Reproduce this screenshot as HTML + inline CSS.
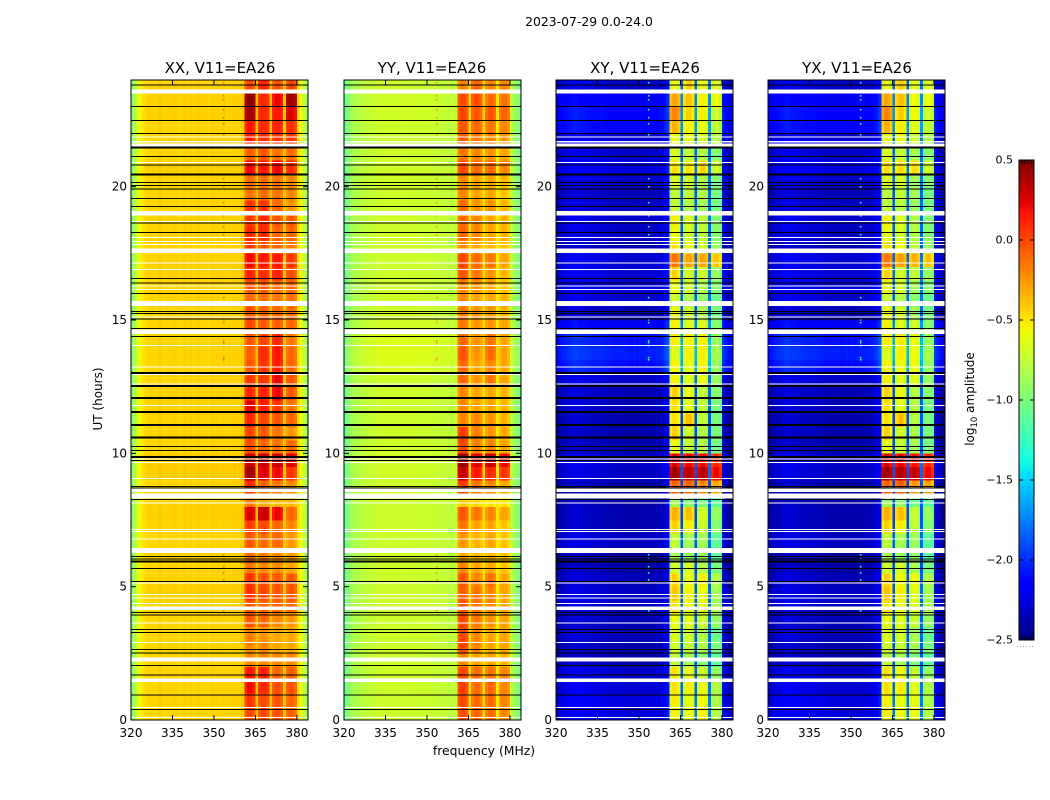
<!DOCTYPE html>
<html>
<head>
<meta charset="utf-8">
<title>2023-07-29 0.0-24.0</title>
<style>
html,body{margin:0;padding:0;background:#fff;}
svg{display:block;font-family:"DejaVu Sans","Liberation Sans",sans-serif;fill:#000;}
</style>
</head>
<body>
<svg id="figure" width="1050" height="800" viewBox="0 0 1050 800" xmlns="http://www.w3.org/2000/svg">
  <rect x="0" y="0" width="1050" height="800" fill="#fff"/>
  <text x="589" y="26" font-size="12.4" text-anchor="middle">2023-07-29 0.0-24.0</text>
  <text x="220" y="73" font-size="15" text-anchor="middle">XX, V11=EA26</text>
  <text x="432" y="73" font-size="15" text-anchor="middle">YY, V11=EA26</text>
  <text x="645" y="73" font-size="15" text-anchor="middle">XY, V11=EA26</text>
  <text x="857" y="73" font-size="15" text-anchor="middle">YX, V11=EA26</text>
  <text transform="translate(102,399) rotate(-90)" font-size="12" text-anchor="middle">UT (hours)</text>
  <text x="484" y="755" font-size="12.4" text-anchor="middle">frequency (MHz)</text>
  <text transform="translate(974,399) rotate(-90)" font-size="12" text-anchor="middle">log<tspan font-size="8.5" dy="3">10</tspan><tspan dy="-3"> amplitude</tspan></text>
  <g id="panels"></g>
  <g id="colorbar"></g>
</svg>
<script>
// Categories and tick labels
const frequencyTicks = [320, 335, 350, 365, 380];
const hourTicks = [0, 5, 10, 15, 20];
const colorbarTicks = [-2.5, -2.0, -1.5, -1.0, -0.5, 0.0, 0.5];
const bandStartChannels = [41, 46, 51, 56];

// log10 amplitude per 1 MHz channel (320..383). Inside a band the value is an offset to the band level.
const xxProfile = [-.95,-.8,-.65,-.55,-.5,-.46,-.45,-.44,-.46,-.45,-.43,-.45,-.46,-.44,-.45,-.43,-.45,-.46,-.45,-.43,-.45,-.44,-.46,-.45,-.43,-.45,-.44,-.45,-.46,-.43,-.45,-.44,-.45,-.43,-.45,-.44,-.45,-.43,-.44,-.43,-.42,-.06,.02,.02,-.04,-.37,-.04,.02,.02,-.04,-.37,-.04,.02,.02,-.04,-.39,-.04,.02,.02,-.06,-.45,-.6,-.72,-.85];
const yyProfile = [-1.05,-.97,-.88,-.84,-.82,-.79,-.77,-.77,-.75,-.75,-.73,-.71,-.71,-.71,-.7,-.71,-.7,-.71,-.69,-.7,-.71,-.7,-.69,-.7,-.71,-.71,-.7,-.71,-.71,-.71,-.71,-.72,-.72,-.73,-.74,-.74,-.74,-.75,-.76,-.76,-.74,-.05,.02,.02,-.04,-.48,-.05,.02,.02,-.05,-.48,-.05,.02,.02,-.05,-.5,-.05,.02,.02,-.06,-.76,-.84,-.94,-1.02];
const xyProfile = [-2.45,-2.42,-2.38,-2.36,-2.34,-2.32,-2.3,-2.3,-2.32,-2.32,-2.33,-2.33,-2.35,-2.35,-2.36,-2.36,-2.36,-2.37,-2.38,-2.38,-2.4,-2.4,-2.4,-2.4,-2.4,-2.4,-2.42,-2.42,-2.4,-2.42,-2.4,-2.42,-2.4,-2.4,-2.4,-2.4,-2.38,-2.38,-2.35,-2.3,-2.2,-.1,.02,.02,-.08,-1.95,-.08,.02,.02,-.08,-1.95,-.08,.02,.02,-.08,-1.9,-.08,.02,.02,-.1,-2.3,-2.38,-2.44,-2.46];
const yxProfile = xyProfile;

// One row per half hour of UT, bottom to top: [background offset, band 1, band 2, band 3, band 4]
const xxRows = [
[0,.0,0,-.03,-.08],[0,.05,-.02,-.05,-.1],[0,.18,.1,-.03,-.03],[0,.15,.12,-.1,-.08],[0,-.2,-.2,-.2,-.2],[0,-.2,-.2,-.3,-.3],
[0,-.18,-.25,-.3,-.3],[0,-.05,-.1,-.2,-.25],[0,-.05,-.1,-.1,-.1],[.01,.08,0,-.05,-.05],[.01,.06,-.02,-.06,-.05],[0,-.15,-.2,-.22,-.3],
[0,-.1,-.15,-.2,-.25],[0,-.05,-.12,-.1,-.25],[0,.03,0,-.1,-.2],[.01,.25,.3,.2,-.1],[0,-.15,-.3,-.35,-.35],[0,.1,-.1,-.15,-.2],
[.02,.4,.25,.2,.05],[.03,.3,.3,.3,.25],[0,-.02,-.1,-.15,-.1],[0,0,-.05,-.15,-.25],[0,.1,0,-.05,-.1],[.01,.25,.15,.05,-.15],
[0,.1,.12,.2,-.05],[0,.05,.05,.2,-.05],[0,-.05,.05,.12,-.1],[0,-.08,.08,.15,-.1],[0,-.05,0,.1,-.15],[0,0,-.05,-.08,-.1],
[0,-.03,-.08,-.1,-.12],[0,-.1,-.12,-.15,-.12],[0,-.05,-.05,-.12,-.1],[.01,.12,.08,.12,-.02],[.01,.2,.15,.15,.05],[0,.05,-.05,-.1,-.15],
[0,.1,.1,-.1,-.1],[0,.05,.1,-.05,-.05],[0,.05,.05,-.1,-.25],[0,-.15,-.12,-.15,-.2],[0,-.12,-.12,-.15,-.2],[.01,.2,.15,.2,.08],
[0,-.08,-.05,-.15,-.12],[0,.15,.1,.05,.05],[0,.15,.1,.12,.08],[.01,.4,.1,.15,.25],[.01,.45,.1,.2,.4],[0,-.02,.1,-.05,0]
];
const yyRows = [
[0,-.02,-.1,-.12,-.2],[0,-.02,-.12,-.12,-.2],[0,.03,-.12,-.1,-.2],[0,0,-.12,-.15,-.2],[0,-.2,-.3,-.3,-.35],[0,0,-.2,-.3,-.3],
[0,0,-.2,-.3,-.3],[0,0,-.15,-.25,-.3],[0,-.05,-.15,-.2,-.3],[0,-.08,-.15,-.2,-.3],[0,-.05,-.2,-.15,-.3],[0,-.2,-.3,-.3,-.4],
[0,-.3,-.35,-.35,-.4],[0,-.25,-.35,-.3,-.4],[0,-.15,-.3,-.3,-.4],[0,-.05,-.15,-.2,-.3],[0,-.4,-.45,-.5,-.5],[0,.05,-.15,-.2,-.3],
[.01,.3,.15,.1,.05],[.02,.42,.25,.3,.2],[0,0,-.2,-.2,-.3],[0,.03,-.18,-.25,-.32],[0,-.2,-.2,-.25,-.35],[0,-.2,-.3,-.3,-.35],
[0,-.2,-.3,-.3,-.35],[0,-.1,-.25,-.15,-.3],[.05,-.1,-.3,-.2,-.3],[.06,-.05,-.25,-.12,-.3],[.05,-.1,-.25,-.15,-.3],[.02,-.15,-.25,-.25,-.3],
[0,-.15,-.25,-.25,-.35],[0,-.2,-.3,-.3,-.35],[0,-.2,-.25,-.3,-.4],[0,-.05,-.15,-.25,-.35],[0,0,-.1,-.15,-.3],[0,-.2,-.3,-.35,-.4],
[0,-.1,-.2,-.3,-.35],[0,-.12,-.2,-.3,-.35],[0,-.1,-.25,-.25,-.35],[0,-.2,-.3,-.3,-.4],[0,-.2,-.3,-.3,-.35],[.01,0,-.1,-.1,-.2],
[0,-.15,-.2,-.25,-.3],[0,-.05,-.15,-.2,-.25],[0,-.05,-.1,-.15,-.2],[.01,0,-.05,-.05,-.1],[.01,-.02,-.02,-.1,-.15],[0,-.2,-.1,-.2,-.2]
];
const xyRows = [
[.15,-.55,-.6,-.55,-.8],[.15,-.55,-.62,-.58,-.8],[.12,-.5,-.55,-.6,-.8],[.1,-.5,-.6,-.7,-.9],[.02,-.75,-.85,-.95,-1.1],[.02,-.7,-.75,-.8,-1.0],
[.05,-.65,-.7,-.8,-1.05],[.05,-.6,-.65,-.7,-.9],[.08,-.5,-.6,-.6,-.85],[.08,-.4,-.55,-.6,-.85],[.05,-.45,-.6,-.55,-.8],[0,-.7,-.7,-.8,-1.0],
[0,-.8,-.9,-.85,-1.1],[.08,-.75,-.85,-.85,-1.1],[.02,-.45,-.55,-.7,-.95],[.02,-.35,-.4,-.7,-.9],[0,-.85,-.95,-1,-1.1],[0,-.1,-.1,-.2,-.3],
[.08,.4,.35,.35,.2],[.1,.25,.2,.2,.1],[.02,-.6,-.75,-.8,-1.0],[.02,-.45,-.7,-.8,-1],[.02,-.5,-.4,-.75,-1],[.05,-.5,-.65,-.75,-1],
[.05,-.45,-.6,-.75,-.95],[.1,-.55,-.65,-.6,-.9],[.3,-.55,-.6,-.55,-.9],[.36,-.65,-.55,-.55,-.85],[.32,-.55,-.55,-.55,-.9],[.22,-.55,-.65,-.65,-.95],
[.05,-.6,-.7,-.8,-1.0],[.1,-.7,-.8,-.9,-1.05],[.12,-.6,-.7,-.8,-.95],[.12,-.45,-.7,-.7,-.9],[.12,-.15,-.3,-.3,-.4],[.02,-.5,-.6,-.7,-.9],
[.08,-.6,-.7,-.75,-.95],[.1,-.55,-.65,-.75,-.95],[.08,-.75,-.8,-.85,-1.0],[.05,-.75,-.75,-.8,-1.0],[.1,-.65,-.7,-.8,-.95],[.15,-.5,-.5,-.45,-.7],
[.1,-.65,-.75,-.8,-.95],[.12,-.6,-.6,-.65,-.8],[.25,-.35,-.55,-.6,-.75],[.26,-.2,-.45,-.55,-.7],[.2,-.3,-.4,-.55,-.6],[.1,-.6,-.45,-.6,-.65]
];
const yxRows = xyRows;
const yxBandTrim = [0, .02, -.04, 0];

// Flagged integrations, UT hours
const blackFlagHours = [23.81,23.01,22.49,21.99,21.14,20.82,20.16,20.04,19.91,19.56,19.26,18.64,18.29,16.56,16.39,16.0,15.31,15.24,15.03,14.69,14.39,10.26,10.10,9.74,8.75,8.70,8.26,6.14,6.04,5.69,5.20,4.04,3.94,3.40,3.29,2.65,2.51,2.05,1.68,0.93,0.39];
const thickBlackFlagHours = [21.46,20.45,13.02,12.53,12.08,11.55,11.06,10.59,9.87,5.94];
const whiteFlagHours = [21.87,20.91,18.69,18.10,17.94,17.84,17.13,16.90,16.28,16.15,15.12,14.05,13.23,12.95,12.60,11.80,9.79,9.66,9.06,8.14,7.15,7.07,6.78,5.13,4.70,4.57,4.36,3.64,2.91,0.46,0.09];
const whiteFlagStarts = [23.50,21.65,21.51,18.91,17.52,15.53,14.48,8.55,8.30,6.26,4.13,2.19,1.43];
const whiteFlagEnds = [23.65,21.71,21.62,19.09,17.69,15.71,14.65,8.68,8.49,6.45,4.25,2.35,1.55];

// Interference spikes in a single channel
const spikeChannel = 33;
const spikeHours = [23.89,23.4,23.25,22.88,22.58,22.35,21.94,20.29,19.99,19.39,18.9,18.49,18.19,15.83,15,14.89,14.21,14.14,14.03,13.58,13.5,6.19,6.04,5.74,5.51,5.25,4.09];
const xxSpikeLevel = -0.12;
const yySpikeLevel = -0.25;
const xySpikeLevel = -1.2;
const yxSpikeLevel = -1.2;

const SVG_NS = 'http://www.w3.org/2000/svg';
const FREQ_MIN = 320, FREQ_MAX = 384, HOUR_MAX = 24, VALUE_MIN = -2.5, VALUE_MAX = 0.5;
const PANEL_TOP = 80, PANEL_BOTTOM = 720, PANEL_WIDTH = 177;
const BAR_LEFT = 1019, BAR_RIGHT = 1034, BAR_TOP = 160, BAR_BOTTOM = 640;

const panels = [
  {key:'xx', left:131, rows:xxRows, profile:xxProfile, spike:xxSpikeLevel, trim:[0,0,0,0]},
  {key:'yy', left:344, rows:yyRows, profile:yyProfile, spike:yySpikeLevel, trim:[0,0,0,0]},
  {key:'xy', left:556, rows:xyRows, profile:xyProfile, spike:xySpikeLevel, trim:[0,0,0,0]},
  {key:'yx', left:768, rows:yxRows, profile:yxProfile, spike:yxSpikeLevel, trim:yxBandTrim}
];

function xScale(panel, mhz) { return panel.left + (mhz - FREQ_MIN) / (FREQ_MAX - FREQ_MIN) * PANEL_WIDTH; }
function yScale(hour) { return PANEL_BOTTOM - hour / HOUR_MAX * (PANEL_BOTTOM - PANEL_TOP); }
function barScale(v) { return BAR_BOTTOM - (v - VALUE_MIN) / (VALUE_MAX - VALUE_MIN) * (BAR_BOTTOM - BAR_TOP); }

function ramp(t, pts) {
  for (let i = 1; i < pts.length; i++) {
    if (t <= pts[i][0]) {
      const a = pts[i - 1], b = pts[i];
      return a[1] + (b[1] - a[1]) * (t - a[0]) / (b[0] - a[0]);
    }
  }
  return pts[pts.length - 1][1];
}
const JET_R = [[0,0],[.35,0],[.66,1],[.89,1],[1,.5]];
const JET_G = [[0,0],[.125,0],[.375,1],[.64,1],[.91,0],[1,0]];
const JET_B = [[0,.5],[.11,1],[.34,1],[.65,0],[1,0]];
function colorScale(v) {
  const t = Math.max(0, Math.min(1, (v - VALUE_MIN) / (VALUE_MAX - VALUE_MIN)));
  return 'rgb(' + Math.round(255 * ramp(t, JET_R)) + ',' + Math.round(255 * ramp(t, JET_G)) + ',' + Math.round(255 * ramp(t, JET_B)) + ')';
}
function bandOf(channel) {
  for (let b = 0; b < bandStartChannels.length; b++) {
    if (channel >= bandStartChannels[b] && channel < bandStartChannels[b] + 4) return b;
  }
  return -1;
}
function cellValue(panel, r, c) {
  const b = bandOf(c);
  if (b >= 0) return panel.rows[r][b + 1] + panel.trim[b] + panel.profile[c];
  return panel.rows[r][0] + panel.profile[c];
}
function el(parent, tag, attrs) {
  const node = document.createElementNS(SVG_NS, tag);
  for (const k in attrs) node.setAttribute(k, attrs[k]);
  parent.appendChild(node);
  return node;
}
function formatMinus(v, digits) { return v.toFixed(digits).replace('-', '\u2212'); }

const panelsRoot = document.getElementById('panels');
panels.forEach(function (panel) {
  const group = el(panelsRoot, 'g', {});
  
  

  const rowCount = panel.rows.length;
  const rowHours = HOUR_MAX / rowCount;
  const heat = el(group, 'g', {'shape-rendering': 'crispEdges'});
  
  
  for (let r = 0; r < rowCount; r++) {
    for (let c = 0; c < panel.profile.length; c++) {
      const x0 = xScale(panel, FREQ_MIN + c), x1 = xScale(panel, FREQ_MIN + c + 1);
      const y0 = yScale((r + 1) * rowHours), y1 = yScale(r * rowHours);
      const cell = el(heat, 'rect', {x: x0, y: y0, width: x1 - x0 + .4, height: y1 - y0 + .4, fill: colorScale(cellValue(panel, r, c))});
      
      
    }
  }

  spikeHours.forEach(function (h) {
    const spike = el(group, 'rect', {x: xScale(panel, FREQ_MIN + spikeChannel) + .6, y: yScale(h) - 1, width: 1.6, height: 1.6, fill: colorScale(panel.spike)});
    
    
  });

  const flags = el(group, 'g', {'shape-rendering': 'crispEdges'});
  
  
  const right = panel.left + PANEL_WIDTH;
  whiteFlagStarts.forEach(function (start, i) {
    const topY = yScale(whiteFlagEnds[i]), botY = yScale(start);
    const band = el(flags, 'rect', {x: panel.left, y: topY, width: PANEL_WIDTH, height: botY - topY, fill: '#fff'});
    
    
  });
  whiteFlagHours.forEach(function (h) {
    const line = el(flags, 'rect', {x: panel.left, y: yScale(h) - .5, width: PANEL_WIDTH, height: 1, fill: '#fff'});
    
    
  });
  blackFlagHours.forEach(function (h) {
    const line = el(flags, 'rect', {x: panel.left, y: yScale(h) - .5, width: PANEL_WIDTH, height: 1, fill: '#000'});
    
    
  });
  thickBlackFlagHours.forEach(function (h) {
    const line = el(flags, 'rect', {x: panel.left, y: yScale(h) - 1, width: PANEL_WIDTH, height: 2, fill: '#000'});
    
    
  });

  const frame = el(group, 'rect', {x: panel.left, y: PANEL_TOP, width: PANEL_WIDTH, height: PANEL_BOTTOM - PANEL_TOP, fill: 'none', stroke: '#000', 'stroke-width': 1});
  
  

  frequencyTicks.forEach(function (f) {
    const x = xScale(panel, f);
    const bottomTick = el(group, 'line', {x1: x, x2: x, y1: PANEL_BOTTOM, y2: PANEL_BOTTOM - 5, stroke: '#000', 'stroke-width': 1});
    
    
    const topTick = el(group, 'line', {x1: x, x2: x, y1: PANEL_TOP, y2: PANEL_TOP + 5, stroke: '#000', 'stroke-width': 1});
    
    
    const label = el(group, 'text', {x: x, y: 737, 'font-size': 12, 'text-anchor': 'middle'});
    label.textContent = String(f);
    
    
  });
  hourTicks.forEach(function (h) {
    const y = yScale(h);
    const leftTick = el(group, 'line', {x1: panel.left, x2: panel.left + 5, y1: y, y2: y, stroke: '#000', 'stroke-width': 1});
    
    
    const rightTick = el(group, 'line', {x1: right, x2: right - 5, y1: y, y2: y, stroke: '#000', 'stroke-width': 1});
    
    
    const label = el(group, 'text', {x: panel.left - 4, y: y + 4, 'font-size': 12, 'text-anchor': 'end'});
    label.textContent = String(h);
    
    
  });
});

const barRoot = document.getElementById('colorbar');
const barSteps = 240;
const barFill = el(barRoot, 'g', {'shape-rendering': 'crispEdges'});


for (let i = 0; i < barSteps; i++) {
  const v0 = VALUE_MIN + (VALUE_MAX - VALUE_MIN) * i / barSteps;
  const v1 = VALUE_MIN + (VALUE_MAX - VALUE_MIN) * (i + 1) / barSteps;
  const swatch = el(barFill, 'rect', {x: BAR_LEFT, y: barScale(v1), width: BAR_RIGHT - BAR_LEFT, height: barScale(v0) - barScale(v1) + .5, fill: colorScale((v0 + v1) / 2)});
  
  
}
const barFrame = el(barRoot, 'rect', {x: BAR_LEFT, y: BAR_TOP, width: BAR_RIGHT - BAR_LEFT, height: BAR_BOTTOM - BAR_TOP, fill: 'none', stroke: '#000', 'stroke-width': 1});


colorbarTicks.forEach(function (v) {
  const y = barScale(v);
  const leftTick = el(barRoot, 'line', {x1: BAR_LEFT, x2: BAR_LEFT + 4, y1: y, y2: y, stroke: '#000', 'stroke-width': 1});
  
  
  const rightTick = el(barRoot, 'line', {x1: BAR_RIGHT, x2: BAR_RIGHT - 4, y1: y, y2: y, stroke: '#000', 'stroke-width': 1});
  
  
  const label = el(barRoot, 'text', {x: 1013, y: y + 3.5, 'font-size': 11, 'text-anchor': 'end'});
  label.textContent = formatMinus(v, 1);
  
  
});
for (let k = 1; k < 5; k++) {
  const x = BAR_LEFT + k * (BAR_RIGHT - BAR_LEFT) / 5;
  const topMinor = el(barRoot, 'line', {x1: x, x2: x, y1: BAR_TOP, y2: BAR_TOP + 4, stroke: '#000', 'stroke-width': 1});
  
  
  const bottomMinor = el(barRoot, 'line', {x1: x, x2: x, y1: BAR_BOTTOM, y2: BAR_BOTTOM - 4, stroke: '#000', 'stroke-width': 1});
  
  
}
const barDots = el(barRoot, 'line', {x1: 1017, x2: 1035, y1: 646.5, y2: 646.5, stroke: '#aaa', 'stroke-width': 1, 'stroke-dasharray': '1 2'});


</script>
</body>
</html>
